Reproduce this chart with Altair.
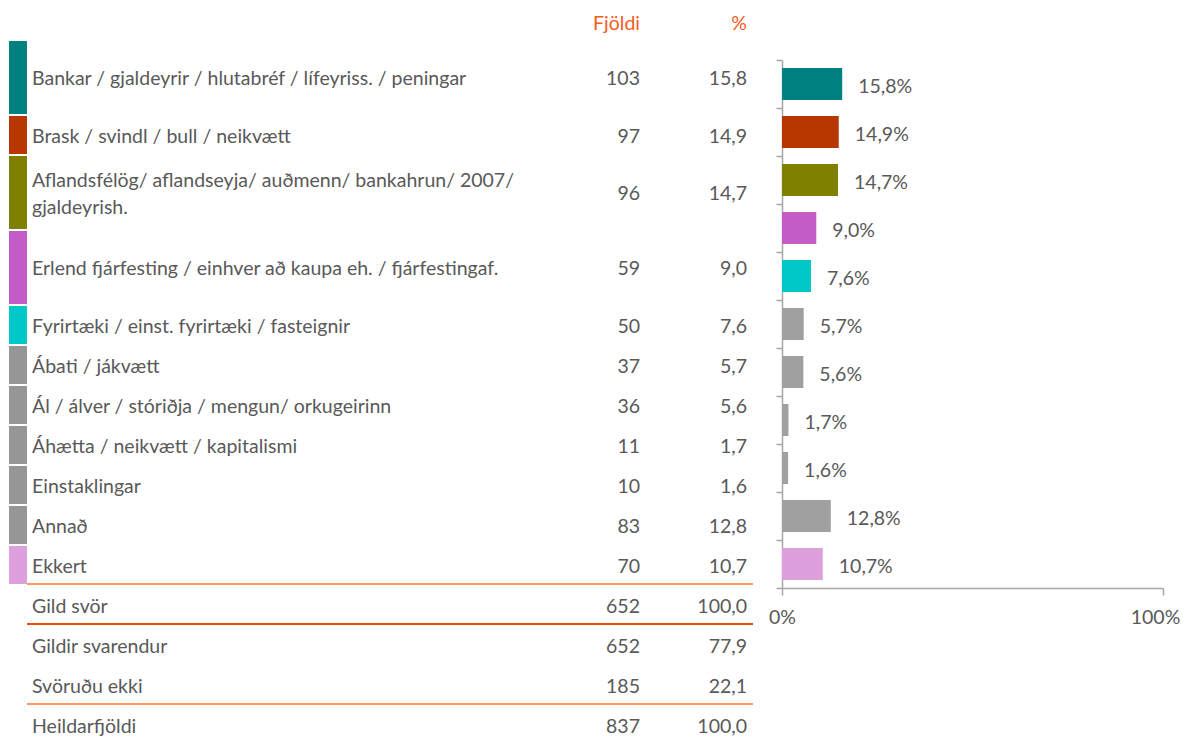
import altair as alt
import pandas as pd

# ---------------- data ----------------
categories = [
    "Bankar / gjaldeyrir / hlutabréf / lífeyriss. / peningar",
    "Brask / svindl / bull / neikvætt",
    "Aflandsfélög/ aflandseyja/ auðmenn/ bankahrun/ 2007/\ngjaldeyrish.",
    "Erlend fjárfesting / einhver að kaupa eh. / fjárfestingaf.",
    "Fyrirtæki / einst. fyrirtæki / fasteignir",
    "Ábati / jákvætt",
    "Ál / álver / stóriðja / mengun/ orkugeirinn",
    "Áhætta / neikvætt / kapitalismi",
    "Einstaklingar",
    "Annað",
    "Ekkert",
]
counts = [103, 97, 96, 59, 50, 37, 36, 11, 10, 83, 70]
percents = [15.8, 14.9, 14.7, 9.0, 7.6, 5.7, 5.6, 1.7, 1.6, 12.8, 10.7]

summary_labels = ["Gild svör", "Gildir svarendur", "Svöruðu ekki", "Heildarfjöldi"]
summary_counts = [652, 652, 185, 837]
summary_percents = [100.0, 77.9, 22.1, 100.0]

header_labels = ["Fjöldi", "%"]
axis_ticks = [0, 100]

# ---------------- styles / layout ----------------
GRAY_SW = "#969696"
GRAY_BAR = "#A0A0A0"
swatch_colors = ["#008080", "#B83700", "#808000", "#C45CC8", "#00C8C8",
                 GRAY_SW, GRAY_SW, GRAY_SW, GRAY_SW, GRAY_SW, "#DDA0DD"]
bar_colors = ["#008080", "#B83700", "#808000", "#C45CC8", "#00C8C8",
              GRAY_BAR, GRAY_BAR, GRAY_BAR, GRAY_BAR, GRAY_BAR, "#DDA0DD"]
TEXT = "#595959"
ORANGE = "#F75B1E"
LINE_LIGHT = "#FF9664"
LINE_DARK = "#F04A0A"
AXIS_C = "#A6A6A6"
FONT = "Lato"
FS = 19.5
DY = 1.5
LINE_H = 27

W, H = 1172, 729
TABLE_TOP = 32
TALL, NORMAL = 75, 40
tall_rows = {0, 2, 3}
row_heights = [TALL if i in tall_rows else NORMAL for i in range(len(categories))]
LABEL_X, COUNT_X, PCT_X = 24, 632, 739
SW_X1, SW_X2 = 1, 19
LINE_X1, LINE_X2 = 19, 745
HEADER_Y = 14
BAR_X0, BAR_X1 = 774, 1155
BAR_Y0, BAR_Y1 = 52, 580
LAST_LABEL_SHIFT = -8  # keep "100%" inside the drawing


def fmt(v):
    return f"{v:.1f}".replace(".", ",")


tops = []
y = TABLE_TOP
for h in row_heights:
    tops.append(y)
    y += h
bottoms = tops[1:] + [y]
mids = [(t + b) / 2 for t, b in zip(tops, bottoms)]
main = pd.DataFrame({
    "label": categories,
    "count": [str(c) for c in counts],
    "pct": [fmt(p) for p in percents],
    "top": [t + 1 for t in tops],
    "bot": [b - 1 for b in bottoms],
    "mid": mids,
    "lmid": [m - (lab.count("\n")) * LINE_H / 2 for m, lab in zip(mids, categories)],
    "color": swatch_colors,
})
sum_tops = [y + NORMAL * i for i in range(len(summary_labels))]
summ = pd.DataFrame({
    "label": summary_labels,
    "count": [str(c) for c in summary_counts],
    "pct": [fmt(p) for p in summary_percents],
    "mid": [t + NORMAL / 2 for t in sum_tops],
})
lines = pd.DataFrame({
    "y": [sum_tops[0] - 1, sum_tops[1] - 1, sum_tops[3] - 1],
    "color": [LINE_LIGHT, LINE_DARK, LINE_LIGHT],
})
headers = pd.DataFrame({"text": header_labels, "x": [COUNT_X, PCT_X], "y": [HEADER_Y, HEADER_Y]})

ysc = alt.Scale(domain=[0, H], range=[0, H], nice=False, zero=False)
xsc = alt.Scale(domain=[0, W], range=[0, W], nice=False, zero=False)

swatches = alt.Chart(main).mark_rect().encode(
    x=alt.value(SW_X1), x2=alt.value(SW_X2),
    y=alt.Y("top:Q", scale=ysc, axis=None), y2="bot:Q",
    color=alt.Color("color:N", scale=None),
)


def text_layer(df, field, xpos, align, yfield="mid"):
    return alt.Chart(df).mark_text(
        align=align, baseline="middle", font=FONT, fontSize=FS, color=TEXT,
        lineBreak="\n", lineHeight=LINE_H, dy=DY
    ).encode(x=alt.value(xpos), y=alt.Y(f"{yfield}:Q", scale=ysc, axis=None), text=f"{field}:N")


rules = alt.Chart(lines).mark_rule(strokeWidth=2).encode(
    x=alt.value(LINE_X1), x2=alt.value(LINE_X2),
    y=alt.Y("y:Q", scale=ysc, axis=None),
    color=alt.Color("color:N", scale=None),
)
head = alt.Chart(headers).mark_text(
    align="right", baseline="middle", font=FONT, fontSize=FS, color=ORANGE, dy=DY
).encode(
    x=alt.X("x:Q", scale=xsc, axis=None),
    y=alt.Y("y:Q", scale=ysc, axis=None),
    text="text:N",
)

table = alt.layer(
    swatches,
    text_layer(main, "label", LABEL_X, "left", "lmid"),
    text_layer(main, "count", COUNT_X, "right"),
    text_layer(main, "pct", PCT_X, "right"),
    text_layer(summ, "label", LABEL_X, "left"),
    text_layer(summ, "count", COUNT_X, "right"),
    text_layer(summ, "pct", PCT_X, "right"),
    rules,
    head,
)

bdf = pd.DataFrame({
    "cat": categories,
    "pct": percents,
    "lab": [fmt(p) + "%" for p in percents],
    "color": bar_colors,
})
xb = alt.X(
    "pct:Q",
    scale=alt.Scale(domain=[0, 100], range=[BAR_X0, BAR_X1], nice=False),
    axis=alt.Axis(
        orient="bottom", offset=-(H - BAR_Y1), values=axis_ticks, labelExpr="datum.value + '%'",
        tickSize=7, tickWidth=1.5, tickColor=AXIS_C, domainColor=AXIS_C, domainWidth=1.5,
        labelFont=FONT, labelFontSize=FS, labelColor=TEXT, labelPadding=13, grid=False, title=None,
        labelFlush=False,
        labelOffset={"condition": {"test": f"datum.value == {axis_ticks[-1]}", "value": LAST_LABEL_SHIFT},
                     "value": 0},
    ),
)
yb = alt.Y(
    "cat:N",
    scale=alt.Scale(domain=categories, range=[BAR_Y0, BAR_Y1], paddingInner=0, paddingOuter=0),
    axis=alt.Axis(
        orient="left", offset=-BAR_X0, labels=False, tickBand="extent", tickSize=6, tickWidth=1.5,
        tickColor=AXIS_C, domainColor=AXIS_C, domainWidth=1.5, grid=False, title=None,
    ),
)
bars = alt.Chart(bdf).mark_bar(size=32).encode(
    x=xb, y=yb, color=alt.Color("color:N", scale=None)
)
blabels = alt.Chart(bdf).mark_text(
    align="left", baseline="middle", dx=16, dy=DY + 1, font=FONT, fontSize=FS, color=TEXT
).encode(x="pct:Q", y="cat:N", text="lab:N")

barchart = alt.layer(bars, blabels)

chart = alt.layer(table, barchart).resolve_scale(x="independent", y="independent").properties(
    width=W, height=H, padding=0, autosize="none"
).configure_view(stroke=None)

chart.save("out.html", embed_options={"renderer": "svg", "actions": False})
